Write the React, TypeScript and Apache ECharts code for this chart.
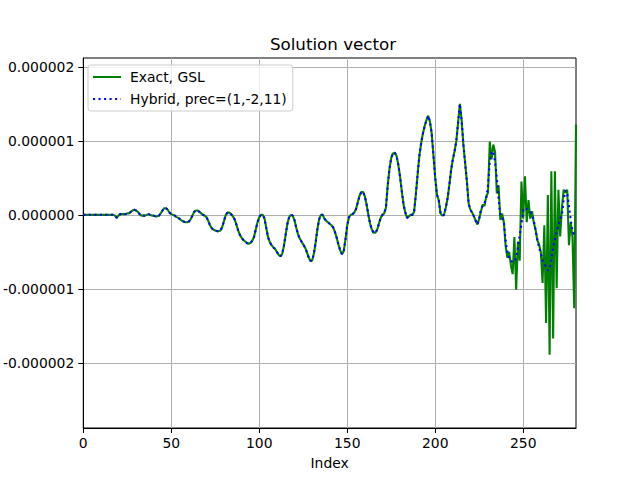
import React, { useEffect, useRef } from "react";
import * as echarts from "echarts";

// values in units of 1e-6
const UNIT = 1e-6;

// indices 0..225: both solutions coincide
const sharedHead = [
  0, 0, 0, 0, 0, 0, 0, 0, 0, 0,
  0, 0, 0, 0, 0, 0, 0, 0, -0.01, -0.04,
  -0.01, 0.01, 0.01, 0.01, 0.01, 0.02, 0.02, 0.04, 0.06, 0.07,
  0.06, 0.04, 0.01, -0.01, -0.01, -0.01, 0.0, 0.01, 0.0, -0.01,
  -0.01, -0.02, -0.02, -0.01, 0.02, 0.06, 0.09, 0.09, 0.07, 0.03,
  0.01, 0.0, -0.01, -0.03, -0.04, -0.06, -0.08, -0.09, -0.1, -0.1,
  -0.09, -0.06, -0.01, 0.04, 0.06, 0.06, 0.04, 0.02, 0.0, -0.01,
  -0.03, -0.08, -0.14, -0.18, -0.2, -0.21, -0.22, -0.22, -0.21, -0.16,
  -0.08, 0.0, 0.03, 0.03, 0.01, -0.02, -0.06, -0.13, -0.21, -0.27,
  -0.31, -0.34, -0.36, -0.38, -0.39, -0.38, -0.35, -0.3, -0.2, -0.1,
  -0.03, 0.0, 0.0, -0.05, -0.18, -0.3, -0.37, -0.41, -0.44, -0.46,
  -0.5, -0.54, -0.56, -0.53, -0.42, -0.27, -0.12, -0.03, 0.0, -0.01,
  -0.07, -0.17, -0.26, -0.32, -0.36, -0.4, -0.44, -0.5, -0.57, -0.62,
  -0.62, -0.53, -0.38, -0.2, -0.06, 0.0, 0.0, -0.05, -0.08, -0.1,
  -0.12, -0.14, -0.17, -0.23, -0.31, -0.4, -0.48, -0.53, -0.49, -0.33,
  -0.14, -0.03, 0.0, 0.01, 0.03, 0.08, 0.17, 0.26, 0.31, 0.31,
  0.25, 0.14, 0.0, -0.12, -0.2, -0.24, -0.24, -0.2, -0.12, -0.04,
  0.0, 0.02, 0.1, 0.4, 0.62, 0.77, 0.83, 0.84, 0.8, 0.68,
  0.52, 0.32, 0.14, 0.03, -0.04, -0.02, 0.0, 0.0, 0.04, 0.28,
  0.55, 0.8, 0.97, 1.1, 1.2, 1.28, 1.34, 1.26, 1.1, 0.8,
  0.5, 0.27, 0.2, 0.02, -0.01, 0.0, 0.1, 0.22, 0.4, 0.6,
  0.75, 0.86, 1.0, 1.25, 1.5, 1.28, 0.95, 0.7, 0.45, 0.15,
  0.07, 0.03, -0.02, -0.08, -0.13, -0.05,
];

// indices 226..280
const exactTail = [
  0.05, 0.14, 0.12, 0.25, 0.3, 0.99, 0.75, 0.95, 0.85, 0.29,
  0.4, -0.07, 0.02, -0.1, -0.42, -0.58, -0.5, -0.68, -0.8, -0.3,
  -1.01, -0.36, -0.62, 0.45, -0.05, 0.52, -0.1, 0.2, -0.05, 0.05,
  -0.1, -0.2, -0.34, -0.4, -0.5, -0.92, -0.14, -1.46, 0.27, -1.89,
  0.59, -1.67, 0.59, -0.99, 0.34, -0.29, 0.1, 0.34, 0.3, 0.34,
  -0.41, -0.1, -0.3, -1.26, 1.22,
];

const hybridTail = [
  0.08, 0.12, 0.16, 0.22, 0.4, 0.72, 0.86, 0.85, 0.72, 0.5,
  0.22, -0.01, -0.04, -0.1, -0.35, -0.5, -0.58, -0.62, -0.64, -0.63,
  -0.58, -0.44, -0.28, -0.12, 0.06, 0.1, 0.08, 0.06, 0.04, 0.0,
  -0.08, -0.2, -0.33, -0.44, -0.52, -0.62, -0.67, -0.7, -0.75, -0.74,
  -0.58, -0.45, -0.33, -0.24, -0.14, -0.06, 0.0, 0.2, 0.33, 0.3,
  0.12, -0.07, -0.22, -0.26, -0.26,
];

const exactValues = [...sharedHead, ...exactTail];
const hybridValues = [...sharedHead, ...hybridTail];

const xTicks = [0, 50, 100, 150, 200, 250];
const yTicks = [-2, -1, 0, 1, 2];

const FONT = "DejaVu Sans";

export default function App() {
  const ref = useRef<HTMLDivElement>(null);
  useEffect(() => {
    document.body.style.margin = "0";
    const chart = echarts.init(ref.current as HTMLDivElement, null, { renderer: "svg" });
    const toPts = (arr: number[]) => arr.map((v, i) => [i, v * UNIT]);
    const fmtY = (v: number) => (Math.abs(v) < 1e-12 ? 0 : v).toFixed(6);
    const yTickVals = yTicks.map((t) => t * UNIT);
    chart.setOption({
      animation: false,
      textStyle: { fontFamily: FONT },
      title: {
        text: "Solution vector",
        left: 328,
        top: 30,
        textAlign: "center",
        textStyle: { fontFamily: FONT, fontSize: 16.7, fontWeight: "normal", color: "#000" },
      },
      legend: {
        orient: "vertical",
        left: 88,
        top: 65,
        padding: [5, 6, 5, 4],
        itemWidth: 28,
        itemHeight: 14,
        itemGap: 8,
        backgroundColor: "rgba(255,255,255,0.8)",
        borderColor: "#cccccc",
        borderWidth: 1,
        borderRadius: 3,
        itemStyle: { opacity: 0 },
        textStyle: { fontFamily: FONT, fontSize: 13.9, color: "#000", padding: [0, 0, 0, 4] },
        data: ["Exact, GSL", "Hybrid, prec=(1,-2,11)"],
      },
      grid: {
        left: 80,
        right: 64,
        top: 58,
        bottom: 52,
        show: true,
        borderColor: "#000",
        borderWidth: 1,
        backgroundColor: "transparent",
      },
      xAxis: {
        type: "value",
        min: 0,
        max: 280,
        interval: 50,
        name: "Index",
        nameLocation: "middle",
        nameGap: 28,
        nameTextStyle: { fontFamily: FONT, fontSize: 13.9, color: "#000" },
        axisLine: { show: true, onZero: false, lineStyle: { color: "#000", width: 1 } },
        axisTick: { show: true, length: 5, lineStyle: { color: "#000" }, customValues: xTicks },
        axisLabel: {
          fontFamily: FONT,
          fontSize: 13.9,
          color: "#000",
          margin: 8,
          customValues: xTicks,
        },
        splitLine: { show: true, lineStyle: { color: "#b0b0b0", width: 1 } },
      },
      yAxis: {
        type: "value",
        min: -2.88 * UNIT,
        max: 2.12 * UNIT,
        splitNumber: 5,
        axisLine: { show: true, onZero: false, lineStyle: { color: "#000", width: 1 } },
        axisTick: { show: true, length: 5, lineStyle: { color: "#000" }, customValues: yTickVals },
        axisLabel: {
          fontFamily: FONT,
          fontSize: 13.9,
          color: "#000",
          margin: 9,
          formatter: fmtY,
          customValues: yTickVals,
        },
        splitLine: { show: true, lineStyle: { color: "#b0b0b0", width: 1 } },
      },
      series: [
        {
          name: "Exact, GSL",
          type: "line",
          data: toPts(exactValues),
          showSymbol: false,
          symbol: "none",
          lineStyle: { color: "#008000", width: 2.08 },
          itemStyle: { color: "#008000" },
        },
        {
          name: "Hybrid, prec=(1,-2,11)",
          type: "line",
          data: toPts(hybridValues),
          showSymbol: false,
          symbol: "none",
          lineStyle: { color: "#0000ff", width: 2.08, type: [2.08, 3.44] },
          itemStyle: { color: "#0000ff" },
        },
      ],
    });
    return () => chart.dispose();
  }, []);
  return <div ref={ref} style={{ width: 640, height: 480 }} />;
}
